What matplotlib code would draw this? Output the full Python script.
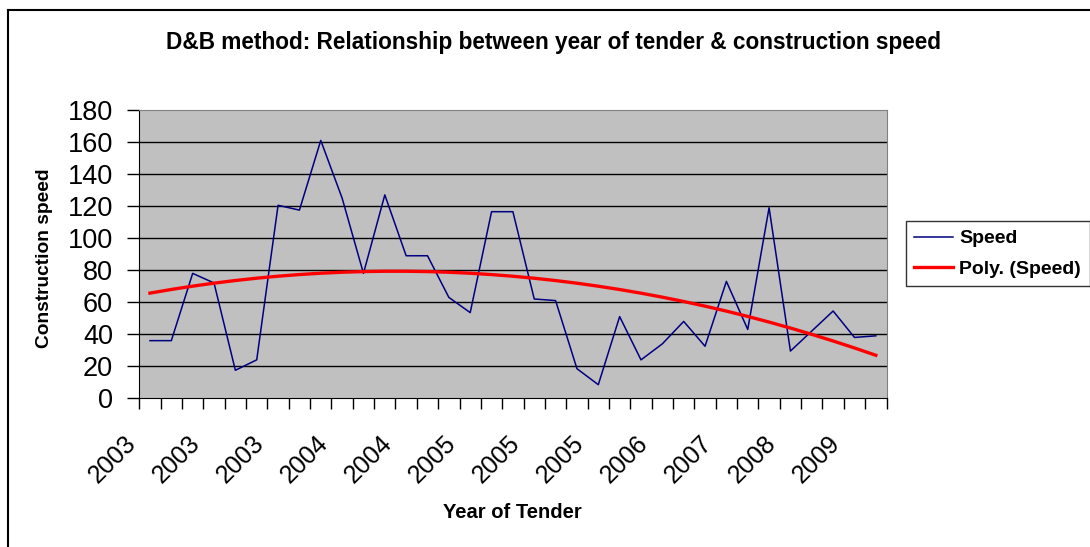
import numpy as np
import matplotlib
matplotlib.use('Agg')
import matplotlib.pyplot as plt
import matplotlib.transforms as mtransforms
from matplotlib.lines import Line2D

plt.rcParams['font.family'] = ['Liberation Sans', 'DejaVu Sans']

# construction speed per tender (35 tenders)
speed = [36, 36, 78, 72, 17.5, 24, 120.5, 117.5, 161, 125,
         78, 127, 89, 89, 63, 53.5, 116.5, 116.5, 62, 61,
         18.5, 8.5, 51, 24, 34, 48, 32.5, 73, 43, 119,
         29.5, 42, 54.5, 38, 39]
# year label shown under every third tender
year_labels = ['2003', '2003', '2003', '2004', '2004', '2005',
               '2005', '2005', '2006', '2007', '2008', '2009']

n = len(speed)
x = np.arange(1, n + 1)

# order-2 polynomial trendline, as the Excel "Poly." trendline does
coef = np.polyfit(x, speed, 2)
trend = np.polyval(coef, x)

fig = plt.figure(figsize=(10.9, 5.47), dpi=100)
ax = fig.add_axes([139.3 / 1090, 1 - 398.3 / 547, (886.5 - 139.3) / 1090, (398.3 - 110) / 547])
ax.set_facecolor('#C0C0C0')

ax.plot(x, speed, color='#000080', lw=1.1, label='Speed', zorder=3)
ax.plot(x, trend, color='#FF0000', lw=2.4, label='Poly. (Speed)', zorder=4)

ax.set_xlim(0.5, n + 0.5)
ax.set_ylim(0, 180)
ax.set_yticks(np.arange(0, 181, 20))
ax.tick_params(axis='y', labelsize=19.5, length=9, width=1, direction='out', pad=10)
for v in range(20, 180, 20):
    ax.axhline(v, color='black', lw=1, zorder=1)

# category boundary ticks
ax.set_xticks(np.arange(0.5, n + 1, 1), minor=True)
ax.tick_params(axis='x', which='minor', length=8, width=1, direction='out')
ax.set_xticks(x[::3])
ax.set_xticklabels(year_labels, rotation=45, ha='right', va='center',
                   rotation_mode='anchor', fontsize=18)
ax.tick_params(axis='x', which='major', length=0, pad=30)
shift = mtransforms.ScaledTranslation(-18 / 100, 0, fig.dpi_scale_trans)
for lab in ax.get_xticklabels():
    lab.set_transform(lab.get_transform() + shift)

for side in ['top', 'right']:
    ax.spines[side].set_color('#808080')
for side in ['left', 'bottom']:
    ax.spines[side].set_color('black')

fig.text(0.508, 1 - 42 / 547, 'D&B method: Relationship between year of tender & construction speed',
         ha='center', va='center', fontsize=16.3, fontweight='bold')
fig.text(45 / 1090, 1 - 258 / 547, 'Construction speed', rotation=90,
         ha='center', va='center', fontsize=13.8, fontweight='bold')
fig.text(512 / 1090, 1 - 512 / 547, 'Year of Tender',
         ha='center', va='center', fontsize=14.5, fontweight='bold')

leg = fig.legend(loc='upper left', bbox_to_anchor=(905.7 / 1090, 1 - 221 / 547),
                 borderaxespad=0, fancybox=False, edgecolor='black',
                 prop={'weight': 'bold', 'size': 14}, handlelength=2.0,
                 handletextpad=0.3, borderpad=0.45, labelspacing=0.65)
leg.get_frame().set_linewidth(1)

# chart area border (left and top edges visible)
fig.add_artist(Line2D([8 / 1090, 8 / 1090], [0, 1 - 10 / 547], transform=fig.transFigure,
                      color='black', lw=1.5))
fig.add_artist(Line2D([8 / 1090, 1], [1 - 10 / 547, 1 - 10 / 547], transform=fig.transFigure,
                      color='black', lw=1.5))

fig.savefig('out.png', dpi=100, facecolor='white')
